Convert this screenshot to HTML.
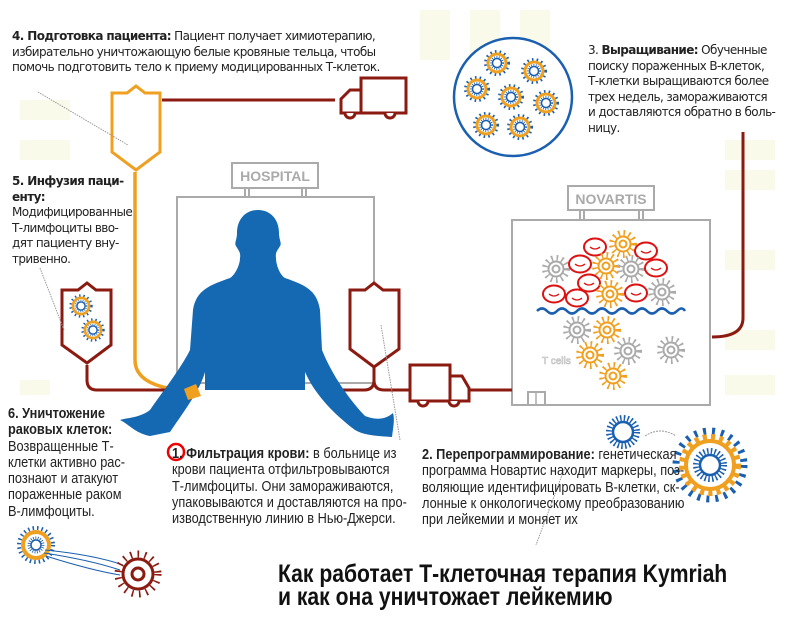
<!DOCTYPE html>
<html><head><meta charset="utf-8"><style>
html,body{margin:0;padding:0;background:#fff}
#w{position:relative;width:800px;height:630px;overflow:hidden;font-family:"DejaVu Sans","Liberation Sans",sans-serif;color:#222}
svg{position:absolute;left:0;top:0}
.t{position:absolute;font-size:12px;line-height:15.5px;letter-spacing:-0.6px;white-space:nowrap}
.n{position:absolute;font-family:"Liberation Sans",sans-serif;font-size:14.5px;line-height:16.3px;color:#222;white-space:nowrap;transform:scaleX(0.88);transform-origin:0 0}
b{font-weight:bold}
</style></head><body><div id="w">
<svg width="800" height="630" viewBox="0 0 800 630">
<defs>
<g id="oc"><circle r="11" fill="none" stroke="#f0a020" stroke-width="6" stroke-dasharray="1.6 3.6"/><circle r="7.5" fill="#fff" stroke="#f0a020" stroke-width="2"/><circle r="3.5" fill="none" stroke="#f0a020" stroke-width="2"/></g>
<g id="gc"><circle r="11" fill="none" stroke="#aaa" stroke-width="6" stroke-dasharray="1.6 3.6"/><circle r="7.5" fill="#fff" stroke="#aaa" stroke-width="2"/><circle r="3.5" fill="none" stroke="#aaa" stroke-width="2"/></g>
<g id="rb"><ellipse rx="11" ry="8.5" fill="#fff" stroke="#d11" stroke-width="2"/><path d="M-5 0 Q0 4 5 0" fill="none" stroke="#d11" stroke-width="1.3"/></g>
<g id="tc"><circle r="11" fill="none" stroke="#1a5fb0" stroke-width="4" stroke-dasharray="1.5 3"/><circle r="9" fill="none" stroke="#f0a020" stroke-width="3"/><circle r="4.5" fill="none" stroke="#1a5fb0" stroke-width="1.5"/><circle r="6" fill="none" stroke="#1a5fb0" stroke-width="2" stroke-dasharray="0.8 1.5"/></g>
</defs>
<g fill="#fafaea"><rect x="20" y="100" width="50" height="20"/><rect x="20" y="140" width="50" height="20"/><rect x="20" y="380" width="30" height="15"/><rect x="725" y="140" width="50" height="20"/><rect x="725" y="170" width="50" height="20"/><rect x="725" y="250" width="50" height="20"/><rect x="725" y="330" width="50" height="20"/><rect x="725" y="375" width="50" height="20"/><rect x="420" y="10" width="30" height="50"/><rect x="470" y="10" width="30" height="50"/><rect x="520" y="10" width="30" height="50"/></g>
<path d="M135 172 V360 Q135 385 180 390" fill="none" stroke="#f0a020" stroke-width="3.5"/>
<path d="M112 93 L127 93 L136 86 L145 93 L160 93 V152 L136 170 L112 152 Z" fill="#fff" stroke="#f0a020" stroke-width="3"/>
<path d="M162 100 H335" stroke="#8b1a10" stroke-width="3" fill="none"/>
<g fill="#fff" stroke="#8b1a10" stroke-width="3"><path d="M341 113 V99 L350 90 H361 V113 Z"/><rect x="361" y="78" width="45" height="35"/><path d="M345 113 a5 5 0 0 0 10 0 M385 113 a5 5 0 0 0 10 0"/></g>
<circle cx="513" cy="97" r="59" fill="#fff" stroke="#1a5fb0" stroke-width="2.5"/>
<use href="#tc" x="497" y="63"/><use href="#tc" x="534" y="71"/><use href="#tc" x="477" y="89"/><use href="#tc" x="511" y="97"/><use href="#tc" x="546" y="103"/><use href="#tc" x="486" y="125"/><use href="#tc" x="520" y="127"/>
<path d="M743 132 V318 Q743 337 712 337" fill="none" stroke="#8b1a10" stroke-width="3"/>
<g fill="#fff" stroke="#aaa" stroke-width="2"><rect x="232" y="163" width="86" height="25"/><rect x="245" y="188" width="4" height="9"/><rect x="302" y="188" width="4" height="9"/><rect x="177" y="197" width="197" height="186"/></g>
<text x="275" y="181" font-family="Liberation Sans,sans-serif" font-weight="bold" font-size="14" fill="#aaa" text-anchor="middle">HOSPITAL</text>
<g fill="#fff" stroke="#aaa" stroke-width="2"><rect x="568" y="186" width="86" height="24"/><rect x="580" y="210" width="4" height="10"/><rect x="639" y="210" width="4" height="10"/><rect x="512" y="220" width="198" height="185"/><rect x="528" y="392" width="17" height="13"/></g>
<path d="M536 392 V405" stroke="#aaa" stroke-width="1.5"/>
<text x="611" y="204" font-family="Liberation Sans,sans-serif" font-weight="bold" font-size="14" fill="#aaa" text-anchor="middle">NOVARTIS</text>
<use href="#rb" x="595" y="247"/><use href="#oc" x="623" y="244"/><use href="#rb" x="646" y="251"/><use href="#gc" x="556" y="269"/><use href="#rb" x="580" y="264"/><use href="#oc" x="606" y="266"/><use href="#gc" x="631" y="269"/><use href="#rb" x="656" y="268"/><use href="#rb" x="589" y="283"/><use href="#rb" x="554" y="294"/><use href="#rb" x="577" y="298"/><use href="#oc" x="610" y="294"/><use href="#rb" x="636" y="293"/><use href="#gc" x="662" y="292"/>
<path d="M537 311 q5 -5 10 0 q5 5 10 0 q5 -5 10 0 q5 5 10 0 q5 -5 10 0 q5 5 10 0 q5 -5 10 0 q5 5 10 0 q5 -5 10 0 q5 5 10 0 q5 -5 10 0 q5 5 10 0 q5 -5 10 0 q5 5 10 0 q5 -5 8 0" fill="none" stroke="#1a5fb0" stroke-width="2.5"/>
<use href="#gc" x="577" y="330"/><use href="#oc" x="607" y="330"/><use href="#oc" x="590" y="355"/><use href="#gc" x="628" y="351"/><use href="#gc" x="671" y="350"/><use href="#oc" x="613" y="376"/>
<text x="542" y="364" font-family="Liberation Sans,sans-serif" font-size="10" fill="#fff" stroke="#bbb" stroke-width="0.6">T cells</text>
<path d="M87 365 V380 Q87 390 97 390 H182" fill="none" stroke="#8b1a10" stroke-width="3"/>
<path d="M374 367 V380 Q374 390 364 390 H330 M374 380 Q374 390 384 390 H410" fill="none" stroke="#8b1a10" stroke-width="3"/>
<path d="M468 390 H512" stroke="#8b1a10" stroke-width="3"/>
<path d="M62 290 L78 290 L87 283 L96 290 L111 290 V345 L87 363 L62 345 Z" fill="#fff" stroke="#8b1a10" stroke-width="3"/>
<g transform="translate(81,306) scale(0.9)"><use href="#tc"/></g><g transform="translate(93,330) scale(0.9)"><use href="#tc"/></g>
<path d="M350 290 L365 290 L374 283 L383 290 L399 290 V349 L374 367 L350 349 Z" fill="#fff" stroke="#8b1a10" stroke-width="3"/>
<g fill="#fff" stroke="#8b1a10" stroke-width="3"><rect x="410" y="365" width="40" height="36"/><path d="M450 376 H462 L469 388 V401 H450 Z"/><path d="M418 401 a5 5 0 0 0 10 0 M449 401 a5 5 0 0 0 10 0"/></g>
<path fill="#1569b3" d="M258 210 C245 210 237 220 237 233 C237 240 234 243 236 246 C238 250 241 252 240 258 C240 265 235 275 230 278 C210 285 196 290 193 310 L190 350 C180 370 160 395 150 410 C140 418 125 418 120 420 C130 425 135 433 150 436 L170 432 C185 410 200 390 205 372 V390 H305 V372 C315 395 335 415 355 430 C365 436 380 436 392 437 C393 428 395 420 393 413 C385 420 375 420 365 416 C345 395 330 370 322 350 L320 310 C317 290 305 285 285 278 C280 275 276 265 276 258 C275 252 278 250 280 246 C282 243 279 240 279 233 C279 220 271 210 258 210 Z"/>
<path d="M184 389 L196 384 L201 396 L188 400 Z" fill="#f0a020"/>
<g stroke="#999" stroke-width="1" stroke-dasharray="1.5 1" fill="none"><path d="M38 92 L128 145"/><path d="M40 268 L64 330"/><path d="M381 325 L400 440"/><path d="M565 467 L536 545"/></g>
<g transform="translate(623,432)"><circle r="10" fill="none" stroke="#1a5fb0" stroke-width="2.5"/><circle r="14" fill="none" stroke="#1a5fb0" stroke-width="6" stroke-dasharray="1.5 2.2"/></g>
<path d="M645 436 Q660 426 676 436" fill="none" stroke="#999" stroke-width="1" stroke-dasharray="2 1"/>
<g transform="translate(710,465)"><circle r="34" fill="none" stroke="#1a5fb0" stroke-width="7" stroke-dasharray="3 6"/><circle r="27" fill="none" stroke="#f0a020" stroke-width="8" stroke-dasharray="4 4"/><circle r="24" fill="#fff" stroke="#f0a020" stroke-width="4"/><circle r="10" fill="none" stroke="#1a5fb0" stroke-width="2.5"/><circle r="14" fill="none" stroke="#1a5fb0" stroke-width="6" stroke-dasharray="1.5 2.2"/></g>
<g transform="translate(36,545)"><circle r="17" fill="none" stroke="#1a5fb0" stroke-width="4" stroke-dasharray="1.5 3"/><circle r="13" fill="#fff" stroke="#f0a020" stroke-width="4"/><circle r="5" fill="none" stroke="#1a5fb0" stroke-width="1.5"/><circle r="7" fill="none" stroke="#1a5fb0" stroke-width="3" stroke-dasharray="0.8 1.5"/></g>
<g stroke="#1a5fb0" stroke-width="1" fill="none"><path d="M44 553 Q90 560 120 570"/><path d="M46 556 Q90 570 120 575"/><path d="M45 550 Q95 555 123 565"/></g>
<g transform="translate(138,574)"><circle r="20" fill="none" stroke="#8b1a10" stroke-width="7" stroke-dasharray="1.6 5.6"/><circle r="15" fill="#fff" stroke="#8b1a10" stroke-width="3"/><circle r="6" fill="none" stroke="#8b1a10" stroke-width="3"/></g>
<circle cx="176" cy="452" r="8" fill="none" stroke="#e00" stroke-width="2.5"/>
</svg>
<div class="t" style="left:12px;top:29px"><b>4. Подготовка пациента:</b> Пациент получает химиотерапию,<br>избирательно уничтожающую белые кровяные тельца, чтобы<br>помочь подготовить тело к приему модицированных Т-клеток.</div>
<div class="t" style="left:588px;top:43px">3. <b>Выращивание:</b> Обученные<br>поиску пораженных В-клеток,<br>Т-клетки выращиваются более<br>трех недель, замораживаются<br>и доставляются обратно в боль-<br>ницу.</div>
<div class="t" style="left:12px;top:174px"><b>5. Инфузия паци-<br>енту:</b><br>Модифицированные<br>Т-лимфоциты вво-<br>дят пациенту вну-<br>тривенно.</div>
<div class="n" style="left:8px;top:406px"><b>6. Уничтожение<br>раковых клеток:</b><br>Возвращенные Т-<br>клетки активно рас-<br>познают и атакуют<br>пораженные раком<br>В-лимфоциты.</div>
<div class="n" style="left:172px;top:446px"><b>1. Фильтрация крови:</b> в больнице из<br>крови пациента отфильтровываются<br>Т-лимфоциты. Они замораживаются,<br>упаковываются и доставляются на про-<br>изводственную линию в Нью-Джерси.</div>
<div class="n" style="left:422px;top:447px"><b>2. Перепрограммирование:</b> генетическая<br>программа Новартис находит маркеры, поз-<br>воляющие идентифицировать В-клетки, ск-<br>лонные к онкологическому преобразованию<br>при лейкемии и моняет их</div>
<div class="n" style="left:278px;top:563px;font-size:25px;line-height:23px;font-weight:bold;color:#111;transform:scaleX(0.845)">Как работает Т-клеточная терапия Kymriah<br>и как она уничтожает лейкемию</div>
</div></body></html>
